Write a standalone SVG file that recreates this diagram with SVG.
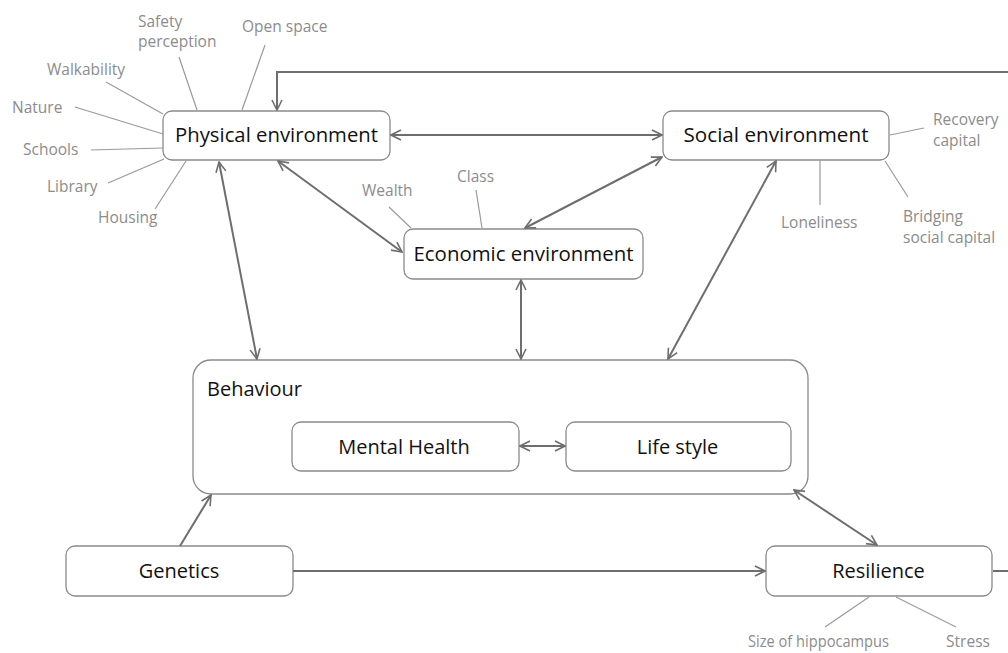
<svg xmlns="http://www.w3.org/2000/svg" width="1008" height="653" viewBox="0 0 1008 653">
  <style>
    .box { fill: #ffffff; stroke: #8a8a8a; stroke-width: 1.3; }
    .main { font-family: "Open Sans", "Noto Sans", sans-serif; font-size: 20px; fill: #111111; }
    .sub { font-family: "Open Sans", "Noto Sans", sans-serif; font-size: 15.5px; fill: #8c8c8c; }
    .link { fill: none; stroke: #6e6e6e; stroke-width: 2; }
    .spoke { fill: none; stroke: #9a9a9a; stroke-width: 1.2; }
  </style>
  <defs>
    <marker id="arrow" viewBox="0 0 12 12" refX="11" refY="6" markerWidth="12" markerHeight="12" markerUnits="userSpaceOnUse" orient="auto-start-reverse">
      <path d="M1,1 L11,6 L1,11" fill="none" stroke="#6e6e6e" stroke-width="1.6"/>
    </marker>
  </defs>
  <rect width="1008" height="653" fill="#ffffff"/>

  <g id="physical-environment">
    <rect class="box" x="163" y="111" width="227" height="49" rx="9"/>
    <text class="main" x="276.5" y="142" text-anchor="middle" textLength="203" lengthAdjust="spacingAndGlyphs">Physical environment</text>
    <text class="sub" x="138" y="27">Safety</text>
    <text class="sub" x="138" y="47">perception</text>
    <text class="sub" x="242" y="32">Open space</text>
    <text class="sub" x="47" y="75">Walkability</text>
    <text class="sub" x="12" y="113">Nature</text>
    <text class="sub" x="23" y="155">Schools</text>
    <text class="sub" x="47" y="192">Library</text>
    <text class="sub" x="98" y="223">Housing</text>
  </g>

  <g id="social-environment">
    <rect class="box" x="663" y="111" width="226" height="49" rx="9"/>
    <text class="main" x="776" y="142" text-anchor="middle" textLength="185" lengthAdjust="spacingAndGlyphs">Social environment</text>
    <text class="sub" x="933" y="125">Recovery</text>
    <text class="sub" x="933" y="146">capital</text>
    <text class="sub" x="781" y="228">Loneliness</text>
    <text class="sub" x="903" y="222">Bridging</text>
    <text class="sub" x="903" y="243">social capital</text>
  </g>

  <g id="economic-environment">
    <rect class="box" x="404" y="229" width="239" height="50" rx="9"/>
    <text class="main" x="523.5" y="261" text-anchor="middle" textLength="220" lengthAdjust="spacingAndGlyphs">Economic environment</text>
    <text class="sub" x="362" y="196">Wealth</text>
    <text class="sub" x="457" y="182">Class</text>
  </g>

  <g id="behaviour">
    <rect class="box" x="193" y="360" width="615" height="134" rx="18"/>
    <text class="main" x="207" y="396">Behaviour</text>
  </g>

  <g id="mental-health">
    <rect class="box" x="292" y="422" width="227" height="49" rx="9"/>
    <text class="main" x="404" y="454" text-anchor="middle">Mental Health</text>
  </g>

  <g id="life-style">
    <rect class="box" x="566" y="422" width="225" height="49" rx="9"/>
    <text class="main" x="677.5" y="454" text-anchor="middle">Life style</text>
  </g>

  <g id="genetics">
    <rect class="box" x="66" y="546" width="227" height="50" rx="9"/>
    <text class="main" x="179" y="578" text-anchor="middle">Genetics</text>
  </g>

  <g id="resilience">
    <rect class="box" x="766" y="546" width="226" height="50" rx="9"/>
    <text class="main" x="878.5" y="578" text-anchor="middle">Resilience</text>
    <text class="sub" x="748" y="647" textLength="141" lengthAdjust="spacingAndGlyphs">Size of hippocampus</text>
    <text class="sub" x="946" y="647" textLength="44" lengthAdjust="spacingAndGlyphs">Stress</text>
  </g>

  <!-- attribute spokes -->
  <g id="spokes">
    <line class="spoke" x1="179" y1="57" x2="197" y2="110"/>
    <line class="spoke" x1="265" y1="45" x2="242" y2="110"/>
    <line class="spoke" x1="106" y1="82" x2="163" y2="114"/>
    <line class="spoke" x1="75" y1="107" x2="163" y2="134"/>
    <line class="spoke" x1="91" y1="150" x2="163" y2="148"/>
    <line class="spoke" x1="108" y1="183" x2="164" y2="159"/>
    <line class="spoke" x1="155" y1="209" x2="186" y2="161"/>
    <line class="spoke" x1="890" y1="135" x2="924" y2="128"/>
    <line class="spoke" x1="820" y1="161" x2="820" y2="205"/>
    <line class="spoke" x1="885" y1="161" x2="908" y2="197"/>
    <line class="spoke" x1="389" y1="207" x2="411" y2="228"/>
    <line class="spoke" x1="476" y1="190" x2="482" y2="228"/>
    <line class="spoke" x1="869" y1="597" x2="825" y2="627"/>
    <line class="spoke" x1="896" y1="597" x2="956" y2="627"/>
  </g>

  <!-- connectors -->
  <g id="connectors">
    <line class="link" x1="391" y1="135" x2="662" y2="135" marker-start="url(#arrow)" marker-end="url(#arrow)"/>
    <line class="link" x1="278" y1="161" x2="402" y2="252" marker-start="url(#arrow)" marker-end="url(#arrow)"/>
    <line class="link" x1="219" y1="162" x2="257" y2="359" marker-start="url(#arrow)" marker-end="url(#arrow)"/>
    <line class="link" x1="662" y1="157" x2="525" y2="228" marker-start="url(#arrow)" marker-end="url(#arrow)"/>
    <line class="link" x1="521" y1="280" x2="521" y2="359" marker-start="url(#arrow)" marker-end="url(#arrow)"/>
    <line class="link" x1="776" y1="161" x2="668" y2="359" marker-start="url(#arrow)" marker-end="url(#arrow)"/>
    <line class="link" x1="520" y1="446" x2="565" y2="446" marker-start="url(#arrow)" marker-end="url(#arrow)"/>
    <line class="link" x1="180" y1="546" x2="211" y2="495" marker-end="url(#arrow)"/>
    <line class="link" x1="794" y1="490" x2="877" y2="545" marker-start="url(#arrow)" marker-end="url(#arrow)"/>
    <line class="link" x1="293" y1="571" x2="765" y2="571" marker-end="url(#arrow)"/>
    <polyline class="link" points="993,571 1016,571 1016,72 277,72 277,110" marker-end="url(#arrow)"/>
  </g>
</svg>
